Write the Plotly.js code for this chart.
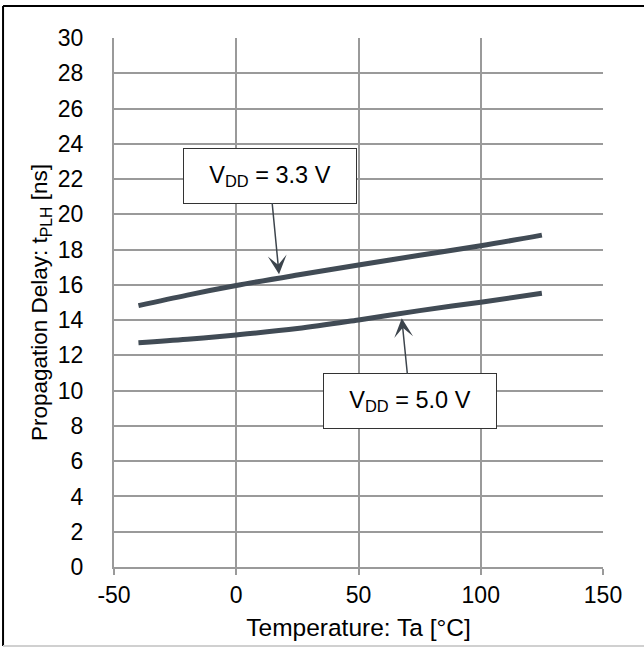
<!DOCTYPE html>
<html>
<head>
<meta charset="utf-8">
<script src="https://cdn.plot.ly/plotly-3.0.1.min.js"></script>
<style>html,body{margin:0;padding:0;background:#fff;}#chart{width:644px;height:648px;}</style>
</head>
<body>
<div id="chart"></div>
<script>
// Temperature (°C)
const temps = [-40, -20, 0, 25, 50, 75, 100, 125];
// Propagation delay tPLH (ns)
const vdd33 = [14.82, 15.42, 15.96, 16.56, 17.13, 17.68, 18.22, 18.82];
const vdd50 = [12.72, 12.92, 13.16, 13.52, 14.01, 14.54, 15.02, 15.52];
const xTicks = [-50, 0, 50, 100, 150];
const yTicks = [0, 2, 4, 6, 8, 10, 12, 14, 16, 18, 20, 22, 24, 26, 28, 30];
const labels = ["V<sub>DD</sub> = 3.3 V", "V<sub>DD</sub> = 5.0 V"];

const lineColor = "#414b55";
const fam = "Liberation Sans, Arial, sans-serif";
const tickFont = {family: fam, size: 23, color: "#000"};
const xTitleFont = {family: fam, size: 24.5, color: "#000"};
const yTitleFont = {family: fam, size: 22.5, color: "#000"};
const annFont = {family: fam, size: 23.5, color: "#000"};

const traces = [
  {x: temps, y: vdd33, mode: "lines", line: {color: lineColor, width: 5, shape: "spline"}, hoverinfo: "none"},
  {x: temps, y: vdd50, mode: "lines", line: {color: lineColor, width: 5, shape: "spline"}, hoverinfo: "none"}
];

const layout = {
  width: 644, height: 648,
  margin: {l: 114, r: 41, t: 38, b: 81},
  paper_bgcolor: "#fff", plot_bgcolor: "#fff",
  showlegend: false,
  font: tickFont,
  xaxis: {
    range: [-50, 150], tickvals: xTicks, ticktext: xTicks.map(String),
    showgrid: true, gridcolor: "#9a9a9a", gridwidth: 2,
    zeroline: false, showline: true, linecolor: "#9a9a9a", linewidth: 2,
    ticks: "outside", ticklen: 6, tickcolor: "#9a9a9a", tickwidth: 2,
    tickfont: tickFont,
    title: {text: "Temperature: Ta [°C]", font: xTitleFont, standoff: 12}
  },
  yaxis: {
    range: [0, 30], tickvals: yTicks, ticktext: yTicks.map(String),
    showgrid: true, gridcolor: "#9a9a9a", gridwidth: 2,
    zeroline: false, showline: true, linecolor: "#9a9a9a", linewidth: 2,
    ticks: "", ticklabelstandoff: 24,
    tickfont: tickFont,
    title: {text: "Propagation Delay: t<sub>PLH</sub> [ns]", font: yTitleFont, standoff: 4}
  },
  annotations: [
    {x: 17.5, y: 16.6, xref: "x", yref: "y", ax: 13.6, ay: 22.2, axref: "x", ayref: "y",
     text: labels[0], showarrow: true, arrowhead: 3, arrowsize: 2.1, arrowwidth: 1.5, arrowcolor: "#3c444c",
     bgcolor: "#fff", bordercolor: "#333", borderwidth: 1, borderpad: 0, width: 172, height: 54, font: annFont},
    {x: 67.7, y: 14.1, xref: "x", yref: "y", ax: 71.1, ay: 9.4, axref: "x", ayref: "y",
     text: labels[1], showarrow: true, arrowhead: 3, arrowsize: 2.1, arrowwidth: 1.5, arrowcolor: "#3c444c",
     bgcolor: "#fff", bordercolor: "#333", borderwidth: 1, borderpad: 0, width: 172, height: 54, font: annFont}
  ],
  shapes: [
    {type: "line", xref: "paper", yref: "paper", x0: -0.2269, x1: 1.2, y0: 1.0606, y1: 1.0606, line: {color: "#000", width: 2}},
    {type: "line", xref: "paper", yref: "paper", x0: -0.2269, x1: -0.2269, y0: 1.0606, y1: -0.1493, line: {color: "#000", width: 2}},
    {type: "line", xref: "paper", yref: "paper", x0: -0.2269, x1: 1.2, y0: -0.1493, y1: -0.1493, line: {color: "#d0d0d0", width: 2}}
  ]
};

Plotly.newPlot("chart", traces, layout, {staticPlot: true, displayModeBar: false});
</script>
</body>
</html>
